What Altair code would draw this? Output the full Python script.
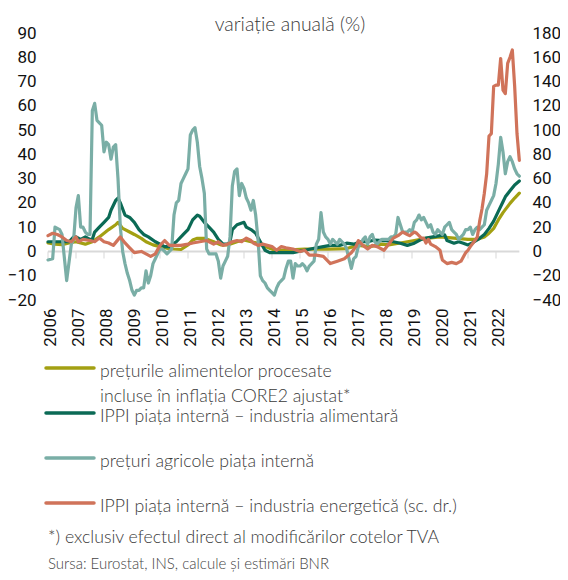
import altair as alt
import pandas as pd

# ---------------- data (month index 0 = Jan 2006) ----------------
year_labels = list(range(2006, 2023))

proc_m = [0, 3, 6, 9, 12, 14, 16, 19, 22, 24, 26, 29, 30, 32, 35, 37, 40, 42, 45, 48, 51, 54, 57, 60,
          62, 64, 67, 69, 71, 74, 77, 81, 84, 87, 90, 93, 97, 102, 110, 120, 128, 133, 138, 143, 146,
          151, 157, 162, 168, 174, 180, 184, 187, 189, 191, 193, 195, 198, 200, 202]
proc_v = [3.5, 3, 2.8, 3.5, 4, 3.5, 3, 4, 6, 7.5, 9, 11, 12, 9.5, 8, 7, 5.4, 4, 2.7, 2, 1.3, 1, 0.8, 2.7,
          4.7, 5.4, 5.4, 4.7, 4, 2.7, 2.7, 4, 4.7, 4, 3.4, 2, 0.6, 0.6, 1, 1, 1.2, 2.5, 2, 3, 2.7,
          3.5, 4.5, 5.4, 6, 5.5, 5, 5, 6, 7.5, 9.5, 13, 16, 19.8, 22, 24]

food_m = [0, 3, 6, 9, 11, 12, 14, 16, 18, 19, 20, 22, 24, 26, 27, 29, 30, 31, 33, 35, 37, 39, 41, 43,
          46, 48, 50, 52, 55, 58, 60, 62, 64, 65, 67, 69, 71, 73, 75, 77, 78, 79, 81, 84, 85, 87, 89,
          91, 93, 95, 98, 102, 105, 110, 114, 118, 121, 125, 128, 131, 134, 137, 140, 144, 148, 151,
          154, 157, 160, 162, 165, 168, 170, 171, 174, 176, 178, 180, 182, 185, 187, 189, 191, 193,
          195, 196, 198, 200, 202]
food_v = [4, 4, 4, 4, 6, 6, 5, 6, 5, 5, 8, 10, 12, 14, 17, 21, 22, 20, 15, 14, 12, 9, 7, 6,
          4, 3, 2, 2, 4, 7, 9, 13, 15, 14.5, 12, 10, 8, 5, 3, 3, 4, 9, 11, 12, 10, 9, 7.5,
          4, 0.5, -0.5, -0.5, -0.5, -0.5, 0.5, 1.3, 2, 2.5, 2.5, 3.4, 3, 4, 4, 4.7, 4.5, 4, 3.4,
          2.5, 3.4, 5, 5.5, 6, 6.5, 6.8, 4.5, 3.4, 4, 3.4, 2.7, 3.6, 5.4, 7, 9.5, 12.5, 16.5,
          20.5, 22.5, 25, 27.4, 29]

agri_m = [0, 2, 3, 5, 6, 8, 10, 11, 12, 13, 14, 15, 16, 17, 18, 19, 20, 21, 22, 23, 24, 25, 26, 27,
          28, 29, 30, 31, 32, 33, 34, 35, 36, 37, 38, 39, 40, 41, 42, 43, 44, 45, 46, 47, 48, 49,
          50, 51, 52, 53, 54, 55, 56, 57, 58, 59, 60, 61, 62, 63, 64, 65, 66, 67, 68, 69, 70, 71,
          72, 73, 74, 75, 76, 77, 78, 79, 80, 81, 82, 83, 84, 85, 86, 87, 88, 89, 90, 91, 92, 93,
          94, 95, 96, 97, 98, 99, 100, 101, 102, 103, 104, 105, 106, 107, 108, 109, 110, 111, 112,
          113, 114, 115, 116, 117, 118, 119, 120, 121, 122, 123, 124, 125, 126, 127, 128, 129, 130,
          131, 132, 133, 134, 135, 136, 137, 138, 139, 140, 141, 142, 143, 144, 145, 146, 147, 148,
          149, 150, 151, 152, 153, 154, 155, 156, 157, 158, 159, 160, 161, 162, 163, 164, 165, 166,
          167, 168, 169, 170, 171, 172, 173, 174, 175, 176, 177, 178, 179, 180, 181, 182, 183, 184,
          185, 186, 187, 188, 189, 190, 191, 192, 193, 194, 195, 196, 197, 198, 199, 200, 201, 202]
agri_v = [-3.5, -3, 10, 9, 7, -12, 3, 5, 18, 23, 10, 10, 8, 7, 7, 58, 61, 54, 53, 52, 41, 45, 44, 38,
          43, 44, 30, 10, 0, -5, -9, -12, -16, -18, -16, -16, -15, -15, -8, -13, -10, -5, -3, -1, 1, 1,
          0, -1, 0, 1, 15, 20, 21, 28, 30, 32, 34, 48, 50, 51, 45, 35, 30, 24, 1, -1, -1, -1,
          -1, -4, -11, -6, -4, -2, 6, 27, 33, 34, 23, 28, 26, 22, 20, 17, 21, 15, 5, -10, -12, -13,
          -15, -16, -17, -18, -15, -13, -12, -11, -7, -4, -4, -11, -5, -6, -6, -5, -6, -8, -6,
          -5, -4, 3, 5, 16, 8, 6, 5, 3, 5, 4, 3, 5, 4, 3, 1, -3, -7,
          -3, -2, 2, 3, 5, 6, 3, 6, 7, 4, 3, 4, 5, 5, 5, 5, 6, 6,
          7, 14, 11, 8, 8, 8, 9, 8, 12, 13, 15, 13, 14, 12, 10, 11, 8, 7,
          9, 8, 7, 10, 11, 12, 9, 8, 7, 5, 6, 7, 9, 9, 10, 7, 9, 10,
          9, 10, 11, 17, 19, 21, 23, 28, 36, 47, 41, 32, 37, 39, 37, 34, 32, 31]

energy_m = [0, 2, 4, 6, 8, 10, 12, 13, 15, 18, 20, 22, 24, 26, 28, 31, 33, 35, 37, 40, 42, 44, 46, 48,
            50, 52, 55, 57, 60, 62, 65, 68, 71, 73, 75, 77, 79, 81, 83, 85, 87, 88, 90, 92, 94, 96,
            98, 100, 102, 105, 108, 110, 112, 115, 118, 121, 124, 127, 130, 132, 133, 135, 137, 139,
            141, 144, 146, 148, 150, 152, 154, 155, 157, 158, 160, 161, 162, 163, 164, 166, 168, 169,
            171, 173, 175, 177, 179, 180, 181, 183, 184, 185, 186, 187, 188, 189, 190, 191, 192, 193,
            194, 195, 196, 197, 198, 199, 200, 201, 202]
energy_v = [13, 15, 14, 12, 9, 8, 12, 8, 10, 9, 8, 11, 8, 7, 5, 12, 7, 3, -1, 0, -2, -4, -2, 5,
            9, 5, 5, 5, 6, 7, 8, 9, 6, 8, 5, 6, 8, 9, 8, 11, 9, 7, 5, 6, 5, 4,
            1, 4, 3, 2, 0, 1, -3, -3, -4, -10, -8, -6, -1, 4, 9, 5, 2, 5,
            4, 1, 6, 11, 13, 16, 14, 13, 16, 15, 11, 11, 7, 10, 6, 4, 1, -7,
            -10, -9, -10, -8, -1, 1, 4, 9, 12, 25, 35, 48, 64, 95, 97, 136, 137, 137,
            159, 133, 130, 155, 160, 166, 136, 97, 75]

series = ["prețurile alimentelor procesate", "IPPI piața internă – industria alimentară",
          "prețuri agricole piața internă", "IPPI piața internă – industria energetică (sc. dr.)"]
colors = ["#a3a012", "#0b6a55", "#7aaea6", "#d0735a"]
legend_lines = [["prețurile alimentelor procesate", "incluse în inflația CORE2 ajustat*"],
                ["IPPI piața internă – industria alimentară"],
                ["prețuri agricole piața internă"],
                ["IPPI piața internă – industria energetică (sc. dr.)"]]
title_text = "variație anuală (%)"
footnote = "*) exclusiv efectul direct al modificărilor cotelor TVA"
source = "Sursa: Eurostat, INS, calcule și estimări  BNR"

# ---------------- layout ----------------
W, H = 476, 267
X_DOM = [0, 204]
YL = [-20, 90]
YR = [-40, 180]
AX_FONT = "Roboto, Liberation Sans, sans-serif"
TX_FONT = "Lato, Open Sans, sans-serif"
AX_COLOR = "#111111"
TX_COLOR = "#3a3a3a"

xscale = alt.Scale(domain=X_DOM, nice=False, zero=False)
yl_scale = alt.Scale(domain=YL, nice=False, zero=False)
yr_scale = alt.Scale(domain=YR, nice=False, zero=False)

x_axis = alt.Axis(values=[12 * (y - 2006) for y in year_labels],
                  labelExpr="toString(2006 + round(datum.value / 12))",
                  labelAngle=270, labelAlign="right", labelBaseline="middle",
                  labelPadding=8, labelOffset=2, ticks=False, domain=False, grid=False,
                  title=None, labelFontSize=17, labelFont=AX_FONT, labelColor=AX_COLOR,
                  labelOverlap=False)
yl_axis = alt.Axis(values=list(range(-20, 91, 10)), orient="left", ticks=False, domain=False,
                   grid=False, title=None, labelPadding=12, labelFontSize=17, labelFont=AX_FONT,
                   labelColor=AX_COLOR)
yr_axis = alt.Axis(values=list(range(-40, 181, 20)), orient="right", ticks=False, domain=False,
                   grid=False, title=None, labelPadding=8, labelFontSize=17, labelFont=AX_FONT,
                   labelColor=AX_COLOR, labelAlign="left")


def frame(ms, vs):
    return pd.DataFrame({"m": ms, "v": vs})


def line(df, color, ya=yl_axis, scale=yl_scale):
    return alt.Chart(df).mark_line(color=color, strokeWidth=3.2, strokeJoin="round",
                                   strokeCap="round").encode(
        x=alt.X("m:Q", scale=xscale, axis=x_axis),
        y=alt.Y("v:Q", scale=scale, axis=ya),
    )


last_m = max(proc_m)
base_df = pd.DataFrame({"m": [0], "m2": [last_m], "v": [0]})
baseline = alt.Chart(base_df).mark_rule(color="#d9d9d9", strokeWidth=2).encode(
    x=alt.X("m:Q", scale=xscale, axis=x_axis), x2="m2:Q",
    y=alt.Y("v:Q", scale=yl_scale, axis=yl_axis))
tick_df = pd.DataFrame({"m": [12 * (y - 2006) for y in year_labels], "v": 0})
ticks = alt.Chart(tick_df).mark_tick(orient="vertical", color="#d9d9d9", size=7, thickness=1.5,
                                     yOffset=3.5).encode(
    x=alt.X("m:Q", scale=xscale, axis=x_axis),
    y=alt.Y("v:Q", scale=yl_scale, axis=yl_axis))

left = alt.layer(
    baseline, ticks,
    line(frame(proc_m, proc_v), colors[0]),
    line(frame(food_m, food_v), colors[1]),
    line(frame(agri_m, agri_v), colors[2]),
)
right = line(frame(energy_m, energy_v), colors[3], ya=yr_axis, scale=yr_scale)

# ---------------- legend and notes ----------------
extras = []
extras.append(alt.Chart(pd.DataFrame({"t": [title_text]})).mark_text(
    font=TX_FONT, fontSize=19.5, fontWeight=300, color=TX_COLOR, align="center",
    baseline="alphabetic").encode(text="t:N", x=alt.value(242), y=alt.value(-2)))

line_y = [335, 380, 425, 470]
text_y = [343.5, 388.5, 433.5, 479]
for i, lab in enumerate(legend_lines):
    extras.append(alt.Chart(pd.DataFrame({"s": [series[i]]})).mark_rule(
        color=colors[i], strokeWidth=3.5, strokeCap="round").encode(
        x=alt.value(-2), x2=alt.value(46), y=alt.value(line_y[i])))
    extras.append(alt.Chart(pd.DataFrame({"t": [lab]})).mark_text(
        font=TX_FONT, fontSize=17.7, fontWeight=300, color=TX_COLOR, align="left",
        baseline="alphabetic", lineHeight=25.5).encode(
        text="t", x=alt.value(52), y=alt.value(text_y[i])))

extras.append(alt.Chart(pd.DataFrame({"t": [footnote]})).mark_text(
    font=TX_FONT, fontSize=17.7, fontWeight=300, color=TX_COLOR, align="left",
    baseline="alphabetic").encode(text="t:N", x=alt.value(0), y=alt.value(510)))
extras.append(alt.Chart(pd.DataFrame({"t": [source]})).mark_text(
    font=TX_FONT, fontSize=15, fontWeight=300, color="#444444", align="left",
    baseline="alphabetic").encode(text="t:N", x=alt.value(0), y=alt.value(536)))

chart = alt.layer(left, right, *extras).resolve_scale(y="independent").properties(
    width=W, height=H,
    autosize=alt.AutoSizeParams(type="none"),
    padding={"left": 40, "top": 25, "right": 36, "bottom": 272},
).configure_view(stroke=None)

chart.save("out.html", embed_options={"renderer": "svg", "actions": False})
